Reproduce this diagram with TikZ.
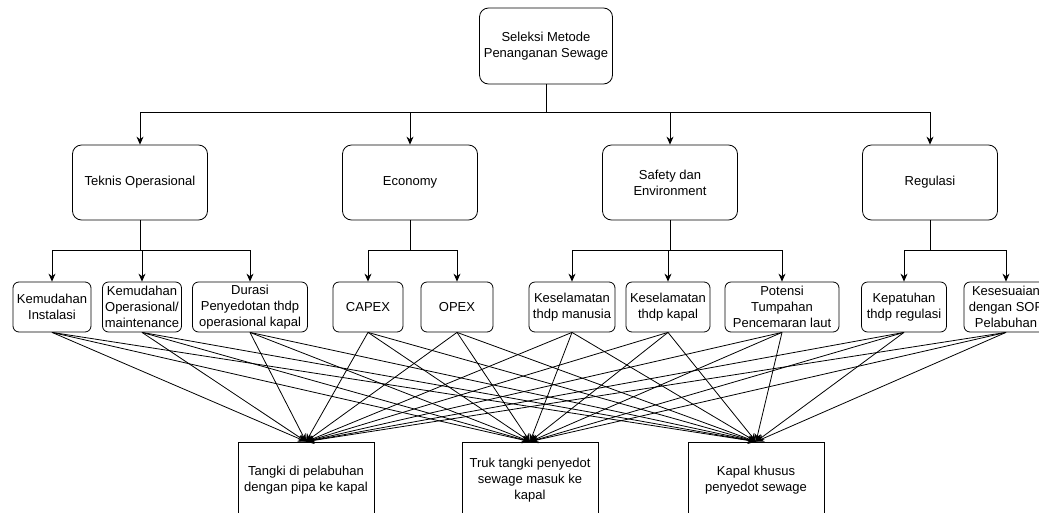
\documentclass[tikz,border=0pt]{standalone}
\usepackage{fontspec}
\setmainfont{Liberation Sans}
\usetikzlibrary{arrows.meta}
\begin{document}
\begin{tikzpicture}[x=1pt,y=-1pt,
    kotak/.style={draw,line width=0.8pt,rounded corners=9pt,align=center,inner sep=0pt,
      minimum width=135pt,minimum height=75pt,font=\fontsize{13}{16}\selectfont},
    kriteria/.style={kotak,rounded corners=6pt,minimum height=50pt},
    alternatif/.style={kotak,rounded corners=0pt,minimum width=136pt,minimum height=76pt},
    panah/.style={line width=0.8pt,-{Stealth[length=8pt,width=7pt]}}]
            \useasboundingbox (0,0) rectangle (1039,512);
            \clip (0,0) rectangle (1039,512);
            % tujuan
            \node[kotak,minimum width=133pt,minimum height=76pt] (tujuan) at (546,46) {Seleksi Metode\\Penanganan Sewage};
            % aspek
            \node[kotak] (tek) at (140,182.5) {Teknis Operasional};
            \node[kotak] (eco) at (410,182.5) {Economy};
            \node[kotak] (saf) at (670,182.5) {Safety dan\\Environment};
            \node[kotak] (reg) at (930,182.5) {Regulasi};
            % kriteria
            \node[kriteria,minimum width=78pt] (k1) at (52,307) {Kemudahan\\Instalasi};
            \node[kriteria,minimum width=79pt] (k2) at (142,307) {Kemudahan\\Operasional/\\maintenance};
            \node[kriteria,minimum width=115pt] (k3) at (250,307) {Durasi\\Penyedotan thdp\\operasional kapal};
            \node[kriteria,minimum width=70pt] (k4) at (368,307) {CAPEX};
            \node[kriteria,minimum width=72pt] (k5) at (457,307) {OPEX};
            \node[kriteria,minimum width=86pt] (k6) at (572,307) {Keselamatan\\thdp manusia};
            \node[kriteria,minimum width=84pt] (k7) at (668,307) {Keselamatan\\thdp kapal};
            \node[kriteria,minimum width=114pt] (k8) at (782,307) {Potensi\\Tumpahan\\Pencemaran laut};
            \node[kriteria,minimum width=85pt] (k9) at (904,307) {Kepatuhan\\thdp regulasi};
            \node[kriteria,minimum width=84pt] (k10) at (1006,307) {Kesesuaian\\dengan SOP\\Pelabuhan};
            % alternatif
            \node[alternatif] (b1) at (306,480) {Tangki di pelabuhan\\dengan pipa ke kapal};
            \node[alternatif] (b2) at (530,480) {Truk tangki penyedot\\sewage masuk ke\\kapal};
            \node[alternatif] (b3) at (756,480) {Kapal khusus\\penyedot sewage};
            % tujuan ke aspek
            \foreach \a in {tek,eco,saf,reg}
            \draw[panah] (tujuan.south) -- ++(0,28) -| (\a.north);
            % aspek ke kriteria
            \foreach \a/\k in {tek/k1,tek/k2,tek/k3,eco/k4,eco/k5,saf/k6,saf/k7,saf/k8,reg/k9,reg/k10}
            \draw[panah] (\a.south) -- ++(0,30) -| (\k.north);
            % kriteria ke alternatif
            \foreach \k in {k1,k2,k3,k4,k5,k6,k7,k8,k9,k10}
            \foreach \b in {b1,b2,b3}
            \draw[panah] (\k.south) -- (\b.north);
\end{tikzpicture}
\end{document}
